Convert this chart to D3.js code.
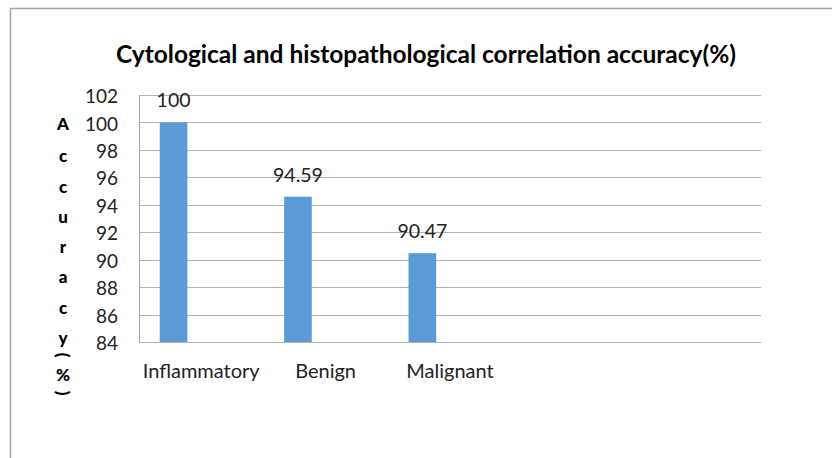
<!DOCTYPE html>
<html><head><meta charset="utf-8">
<script src="https://cdn.jsdelivr.net/npm/d3@7"></script>
<style>
html,body{margin:0;padding:0;background:#fff;}
svg{display:block;}
</style></head>
<body>
<script>
const title = "Cytological and histopathological correlation accuracy(%)";
const categories = ["Inflammatory", "Benign", "Malignant"];
const values = [100, 94.59, 90.47];
const valueLabels = ["100", "94.59", "90.47"];
const yTicks = [84, 86, 88, 90, 92, 94, 96, 98, 100, 102];
const yTitleChars = ["A","c","c","u","r","a","c","y","(","%",")"];

const W = 832, H = 458;
const font = "Lato, 'Open Sans', sans-serif";
const svg = d3.select("body").append("svg").attr("width", W).attr("height", H);

// outer chart border
svg.append("rect").attr("x", 10.5).attr("y", 8.5).attr("width", 900).attr("height", 600)
  .attr("fill", "#fff").attr("stroke", "#a6a6a6").attr("stroke-width", 1.5);

const plot = {left: 139, right: 761, top: 95, bottom: 342};
const y = d3.scaleLinear().domain([84, 102]).range([plot.bottom, plot.top]);
const slots = d3.range(5);
const x = d3.scaleBand().domain(slots).range([plot.left, plot.right]).padding(0);
const bw = x.bandwidth();
const barW = bw / 4.5;
const inner = d3.scaleBand().domain([0,1,2]).range([0.75*barW, bw - 0.75*barW]).padding(0);

// gridlines
svg.append("g").selectAll("line").data(yTicks).join("line")
  .attr("x1", plot.left).attr("x2", plot.right)
  .attr("y1", d => Math.round(y(d)) + 0.5).attr("y2", d => Math.round(y(d)) + 0.5)
  .attr("stroke", "#b3b3b3").attr("stroke-width", 1);
// left axis line
svg.append("line").attr("x1", plot.left + 0.5).attr("x2", plot.left + 0.5)
  .attr("y1", plot.top).attr("y2", plot.bottom + 1).attr("stroke", "#a6a6a6");

// y axis with d3 axis
const yAxis = d3.axisLeft(y).tickValues(yTicks).tickSize(0).tickPadding(0).tickFormat(d3.format("d"));
const ga = svg.append("g").attr("transform", `translate(${plot.left - 21},1)`).call(yAxis);
ga.select(".domain").remove();
ga.selectAll("text").attr("font-family", font).attr("font-size", 19).attr("fill", "#222").attr("dy", "0.35em");

// bars
svg.append("g").selectAll("rect").data(values).join("rect")
  .attr("x", (d, i) => x(i) + inner(0))
  .attr("width", inner.bandwidth())
  .attr("y", d => y(d))
  .attr("height", d => y(84) - y(d))
  .attr("fill", "#5b9bd5");

// value labels
svg.append("g").selectAll("text").data(values).join("text")
  .attr("x", (d, i) => x(i) + inner(0) + inner.bandwidth() / 2)
  .attr("y", d => y(d) - 15)
  .attr("text-anchor", "middle")
  .attr("font-family", font).attr("font-size", 19.5).attr("fill", "#222")
  .text((d, i) => valueLabels[i]);

// category labels
svg.append("g").selectAll("text").data(categories).join("text")
  .attr("x", (d, i) => x(i) + bw / 2)
  .attr("y", 378)
  .attr("text-anchor", "middle")
  .attr("font-family", font).attr("font-size", 20).attr("fill", "#222")
  .text(d => d);

// title
svg.append("text").attr("x", 426).attr("y", 63).attr("text-anchor", "middle")
  .attr("font-family", font).attr("font-size", 24.5).attr("font-weight", "bold").attr("fill", "#000")
  .text(title);

// y axis title (stacked letters)
const yt = svg.append("g");
const letterY = [124, 156, 187, 217, 247, 277, 308, 338, 355, 375, 393];
yTitleChars.forEach((c, i) => {
  const t = yt.append("text").attr("text-anchor", "middle").attr("dy", "0.35em")
    .attr("font-family", font).attr("font-size", 17).attr("font-weight", "900").attr("fill", "#000")
    .text(c);
  if (c === "(" || c === ")") t.attr("transform", `translate(63,${letterY[i]}) rotate(90)`);
  else t.attr("x", 63).attr("y", letterY[i]);
});
</script>
</body></html>
